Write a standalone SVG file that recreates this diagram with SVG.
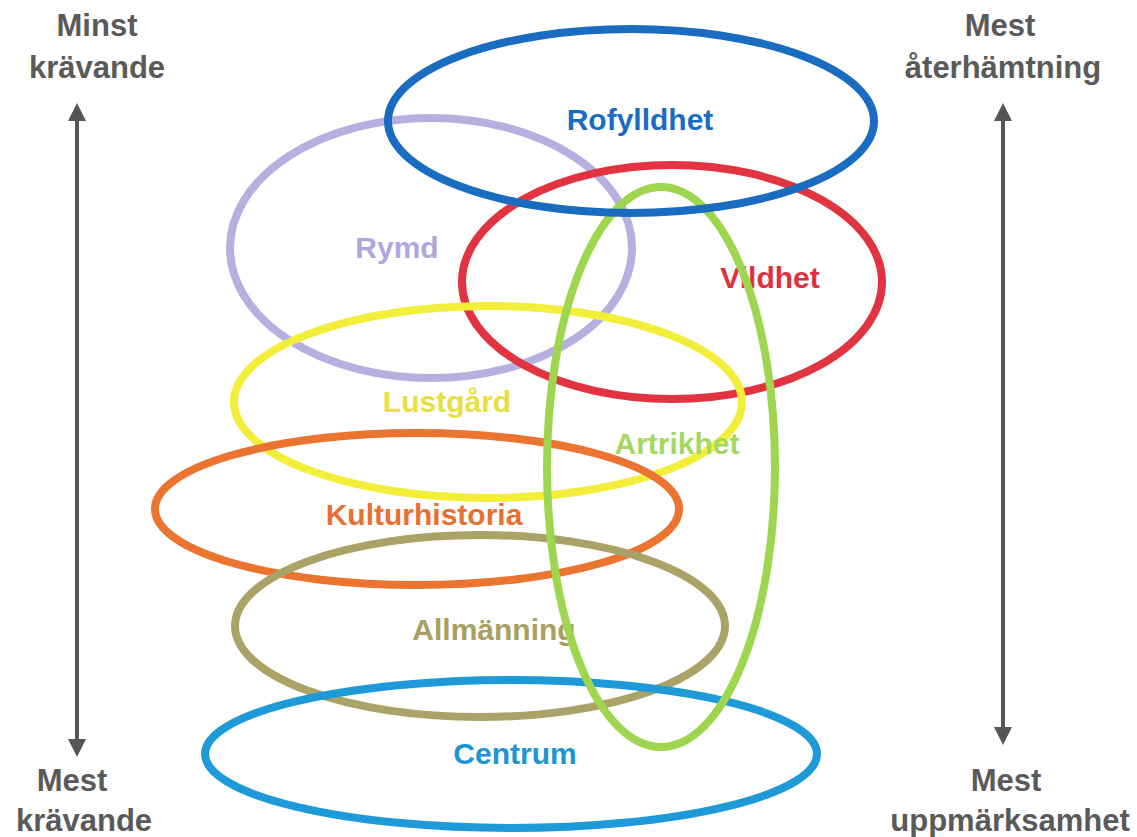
<svg xmlns="http://www.w3.org/2000/svg" width="1137" height="837" viewBox="0 0 1137 837">
<style>
.e{fill:none;stroke-width:8}
.lbl{font-family:"Liberation Sans",Arial,sans-serif;font-weight:bold;font-size:30px;text-anchor:middle}
.side{font-family:"Liberation Sans",Arial,sans-serif;font-weight:bold;font-size:31px;text-anchor:middle;fill:#5a5a5a}
</style>
<defs>
<marker id="ah" viewBox="0 0 10 10" refX="5" refY="5" markerWidth="4.5" markerHeight="5" orient="auto-start-reverse">
<path d="M0,0 L10,5 L0,10 Z" fill="#555"/>
</marker>
</defs>
<rect width="1137" height="837" fill="#fff"/>
<g id="axes" stroke="#555" stroke-width="4">
<line x1="77" y1="112" x2="77" y2="748" marker-start="url(#ah)" marker-end="url(#ah)"/>
<line x1="1003" y1="112" x2="1003" y2="736" marker-start="url(#ah)" marker-end="url(#ah)"/>
</g>
<g id="side-labels">
<text class="side" x="97" y="36">Minst</text>
<text class="side" x="97" y="78">krävande</text>
<text class="side" x="1000" y="36">Mest</text>
<text class="side" x="1003" y="78">återhämtning</text>
<text class="side" x="72" y="791">Mest</text>
<text class="side" x="84" y="831">krävande</text>
<text class="side" x="1006" y="791">Mest</text>
<text class="side" x="1010" y="831">uppmärksamhet</text>
</g>
<g id="rymd"><ellipse class="e" cx="431" cy="248" rx="201" ry="130" stroke="#b5b0e0"/><text class="lbl" x="397" y="258" fill="#b0a8dc">Rymd</text></g>
<g id="vildhet"><ellipse class="e" cx="672" cy="282" rx="210" ry="117" stroke="#e23440"/><text class="lbl" x="770" y="288" fill="#e03040">Vildhet</text></g>
<g id="lustgard"><ellipse class="e" cx="488" cy="402" rx="254" ry="96" stroke="#f2ee3a"/><text class="lbl" x="447" y="412" fill="#e8e040">Lustgård</text></g>
<g id="kulturhistoria"><ellipse class="e" cx="417" cy="509" rx="262" ry="76" stroke="#ea7430"/><text class="lbl" x="424" y="525" fill="#e87030">Kulturhistoria</text></g>
<g id="allmanning"><ellipse class="e" cx="480" cy="626" rx="245" ry="91" stroke="#aaa266"/><text class="lbl" x="494" y="640" fill="#a8a060">Allmänning</text></g>
<g id="centrum"><ellipse class="e" cx="511" cy="754" rx="306" ry="74" stroke="#1e9ad8"/><text class="lbl" x="515" y="764" fill="#1a96d4">Centrum</text></g>
<g id="artrikhet"><ellipse class="e" cx="661" cy="467" rx="114" ry="280" stroke="#9fd650"/><text class="lbl" x="677" y="454" fill="#a4d860">Artrikhet</text></g>
<g id="rofylldhet"><ellipse class="e" cx="631" cy="121" rx="243" ry="92" stroke="#1a6cc0"/><text class="lbl" x="640" y="130" fill="#1a6cc0">Rofylldhet</text></g>
</svg>
